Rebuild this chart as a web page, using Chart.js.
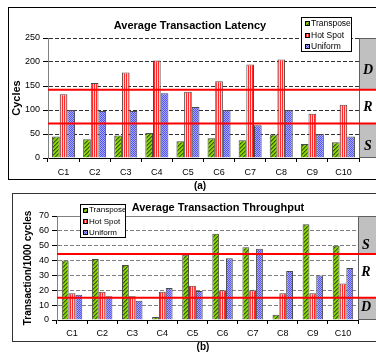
<!DOCTYPE html>
<html>
<head>
<meta charset="utf-8">
<script src="https://cdn.jsdelivr.net/npm/chart.js@4.4.1/dist/chart.umd.min.js"></script>
<style>
html, body { margin: 0; padding: 0; background: #fff; overflow: hidden; width: 376px; height: 352px; }
.frame { position: absolute; box-sizing: border-box; }
#frame-a { left: 8px; top: 7px; width: 380px; height: 173px; border: 1px solid #000; }
#frame-b { left: 12px; top: 193px; width: 380px; height: 149px; border: 1px solid #333; }
canvas { position: absolute; left: 0; }
#latencyChart { top: 0; }
#throughputChart { top: 182px; }
.cap { position: absolute; font: bold 10px "Liberation Sans", Arial, sans-serif; transform: translateX(-50%); }
</style>
</head>
<body>
<div class="frame" id="frame-a"></div>
<div class="frame" id="frame-b"></div>
<canvas id="latencyChart" width="376" height="182"></canvas>
<canvas id="throughputChart" width="376" height="170"></canvas>
<div class="cap" style="left:200px;top:180px">(a)</div>
<div class="cap" style="left:203px;top:341px">(b)</div>
<script>
/* Average transaction latency / throughput per configuration */

const categories = ['C1', 'C2', 'C3', 'C4', 'C5', 'C6', 'C7', 'C8', 'C9', 'C10'];
const seriesNames = ['Transpose', 'Hot Spot', 'Uniform'];

const latencyTranspose = [45, 39, 47, 52, 35, 41, 37, 49, 29, 33];
const latencyHotSpot = [133, 156, 178, 203, 138, 160, 195, 205, 92, 111];
const latencyUniform = [100, 98, 98, 135, 106, 100, 68, 100, 50, 45];
const latencyTicks = [0, 50, 100, 150, 200, 250];
const latencyBounds = [72, 142];
const latencyZones = ['S', 'R', 'D'];

const throughputTranspose = [40, 41, 37, 2, 44, 58, 49, 3.5, 64.5, 50];
const throughputHotSpot = [18, 19, 16, 19, 23, 20, 20, 18, 18, 24.5];
const throughputUniform = [17, 16, 13, 21.5, 19.5, 41.5, 48, 33, 30, 35];
const throughputTicks = [0, 10, 20, 30, 40, 50, 60, 70];
const throughputBounds = [15, 44.5];
const throughputZones = ['D', 'R', 'S'];

const FONT = '"Liberation Sans", Arial, sans-serif';
Chart.defaults.font.family = FONT;
Chart.defaults.font.size = 9;
Chart.defaults.color = '#000';

function makePattern(w, h, draw) {
    const c = document.createElement('canvas');
    c.width = w;
    c.height = h;
    const g = c.getContext('2d');
    draw(g);
    return g.createPattern(c, 'repeat');
}

const greenHatch = makePattern(4, 4, (g) => {
    g.fillStyle = '#8fd000';
    g.fillRect(0, 0, 4, 4);
    for (let i = 0; i < 4; i++) {
        g.fillStyle = '#2e6400';
        g.fillRect(i, 3 - i, 1, 1);
        g.fillStyle = '#5c9c00';
        g.fillRect((i + 1) % 4, 3 - i, 1, 1);
    }
});
const redStripes = makePattern(2, 1, (g) => {
    g.fillStyle = '#ff2a2a';
    g.fillRect(0, 0, 1, 1);
    g.fillStyle = '#ffd4d4';
    g.fillRect(1, 0, 1, 1);
});
const blueDots = makePattern(2, 2, (g) => {
    g.fillStyle = '#5454f4';
    g.fillRect(0, 0, 2, 2);
    g.fillStyle = '#a8a8ff';
    g.fillRect(1, 0, 1, 1);
    g.fillRect(0, 1, 1, 1);
});
const seriesFills = [greenHatch, redStripes, blueDots];

// gray side box with S / R / D bands and the two red threshold lines
const zonePlugin = {
    id: 'zones',
    afterDatasetsDraw(chart, _args, opts) {
        const { ctx, chartArea: a, scales: { y } } = chart;
        const w = chart.width;
        const lo = y.getPixelForValue(opts.bounds[0]);
        const hi = y.getPixelForValue(opts.bounds[1]);
        ctx.save();
        ctx.fillStyle = '#c0c0c0';
        ctx.fillRect(a.right, a.top, w - a.right, a.bottom - a.top);
        ctx.fillStyle = '#fff';
        ctx.fillRect(a.right, hi, w - a.right, lo - hi);
        ctx.strokeStyle = '#606060';
        ctx.lineWidth = 1;
        ctx.strokeRect(a.right + 0.5, a.top + 0.5, w - a.right + 5, a.bottom - a.top - 1);

        ctx.strokeStyle = '#ff0000';
        ctx.lineWidth = 2;
        [lo, hi].forEach((py) => {
            ctx.beginPath();
            ctx.moveTo(a.left, py);
            ctx.lineTo(w, py);
            ctx.stroke();
        });

        ctx.fillStyle = '#000';
        ctx.font = 'italic bold 14px "Liberation Serif", serif';
        ctx.textAlign = 'center';
        ctx.textBaseline = 'middle';
        opts.zones.forEach((label, i) => {
            ctx.fillText(label, opts.labelX, y.getPixelForValue(opts.labelAt[i]));
        });
        ctx.restore();
    },
    afterDraw(chart, _args, opts) {
        const { ctx } = chart;
        ctx.save();
        ctx.fillStyle = '#000';
        ctx.font = `bold 11px ${FONT}`;
        ctx.textAlign = 'center';
        ctx.textBaseline = 'middle';
        ctx.fillText(opts.title, opts.titleX, opts.titleY);

        const lg = opts.legend;
        ctx.fillStyle = '#fff';
        ctx.fillRect(lg.x, lg.y, lg.w, lg.h);
        ctx.strokeStyle = '#000';
        ctx.lineWidth = 1;
        ctx.strokeRect(lg.x + 0.5, lg.y + 0.5, lg.w - 1, lg.h - 1);
        ctx.font = `${lg.size}px ${FONT}`;
        ctx.textAlign = 'left';
        chart.data.datasets.forEach((ds, i) => {
            const ry = lg.row0 + i * lg.gap;
            ctx.fillStyle = ds.backgroundColor;
            ctx.fillRect(lg.swatchX, Math.round(ry - 2.5), 5, 5);
            ctx.strokeStyle = '#000';
            ctx.strokeRect(lg.swatchX + 0.5, Math.round(ry - 2.5) + 0.5, 4, 4);
            ctx.fillStyle = '#000';
            ctx.fillText(ds.label, lg.textX, ry);
        });
        ctx.restore();
    }
};

function makeBarChart(canvasId, series, cfg) {
    return new Chart(document.getElementById(canvasId), {
        type: 'bar',
        data: {
            labels: categories,
            datasets: series.map((data, i) => ({
                label: seriesNames[i],
                data,
                backgroundColor: seriesFills[i],
                borderColor: '#4a4a4a',
                borderWidth: 1,
                categoryPercentage: cfg.catPct,
                barPercentage: 1
            }))
        },
        options: {
            responsive: false,
            animation: false,
            layout: { padding: cfg.padding },
            plugins: {
                legend: { display: false },
                tooltip: { enabled: false },
                zones: cfg.zones
            },
            scales: {
                x: {
                    afterFit: (scale) => { scale.height = cfg.xHeight; },
                    border: { color: '#000' },
                    grid: { drawOnChartArea: false, tickLength: 4, tickColor: '#000', offset: true },
                    ticks: { padding: cfg.xPad, maxRotation: 0, autoSkip: false }
                },
                y: {
                    min: cfg.ticks[0],
                    max: cfg.ticks[cfg.ticks.length - 1],
                    afterFit: (scale) => { scale.width = cfg.yWidth; },
                    afterBuildTicks: (scale) => { scale.ticks = cfg.ticks.map((v) => ({ value: v })); },
                    border: {
                        color: '#808080',
                        dash: (ctx) => (ctx.tick && ctx.tick.value === cfg.solidTop ? [] : [4, 2])
                    },
                    grid: {
                        color: (ctx) => (ctx.tick && ctx.tick.value === 0 ? 'rgba(0,0,0,0)' : cfg.gridColor),
                        tickColor: '#000',
                        tickLength: 5
                    },
                    ticks: { padding: 3 },
                    title: {
                        display: true,
                        text: cfg.yTitle,
                        font: { size: cfg.yTitleSize, weight: 'bold' },
                        padding: { top: cfg.yTitlePad, bottom: 0 }
                    }
                }
            }
        },
        plugins: [zonePlugin]
    });
}

makeBarChart('latencyChart', [latencyTranspose, latencyHotSpot, latencyUniform], {
    catPct: 0.74,
    padding: { left: 0, top: 38, right: 17, bottom: 0 },
    xHeight: 24,
    xPad: 5,
    yWidth: 48,
    ticks: latencyTicks,
    solidTop: null,
    gridColor: '#303030',
    yTitle: 'Cycles',
    yTitleSize: 11,
    yTitlePad: 10,
    zones: {
        bounds: latencyBounds,
        zones: latencyZones,
        labelAt: [25, 106, 183],
        labelX: 368,
        title: 'Average Transaction Latency',
        titleX: 190,
        titleY: 26,
        legend: { x: 301, y: 17, w: 51, h: 35, row0: 23.5, gap: 11.7, swatchX: 305, textX: 311, size: 8.5 }
    }
});

makeBarChart('throughputChart', [throughputTranspose, throughputHotSpot, throughputUniform], {
    catPct: 0.68,
    padding: { left: 0, top: 34, right: 18, bottom: 0 },
    xHeight: 32,
    xPad: 4,
    yWidth: 57,
    ticks: throughputTicks,
    solidTop: 70,
    gridColor: '#808080',
    yTitle: 'Transaction/1000 cycles',
    yTitleSize: 10,
    yTitlePad: 22,
    zones: {
        bounds: throughputBounds,
        zones: throughputZones,
        labelAt: [8.7, 32.3, 50.5],
        labelX: 366,
        title: 'Average Transaction Throughput',
        titleX: 218,
        titleY: 26,
        legend: { x: 80, y: 22, w: 46, h: 34, row0: 28, gap: 11.3, swatchX: 83, textX: 89, size: 8 }
    }
});
</script>
</body>
</html>
